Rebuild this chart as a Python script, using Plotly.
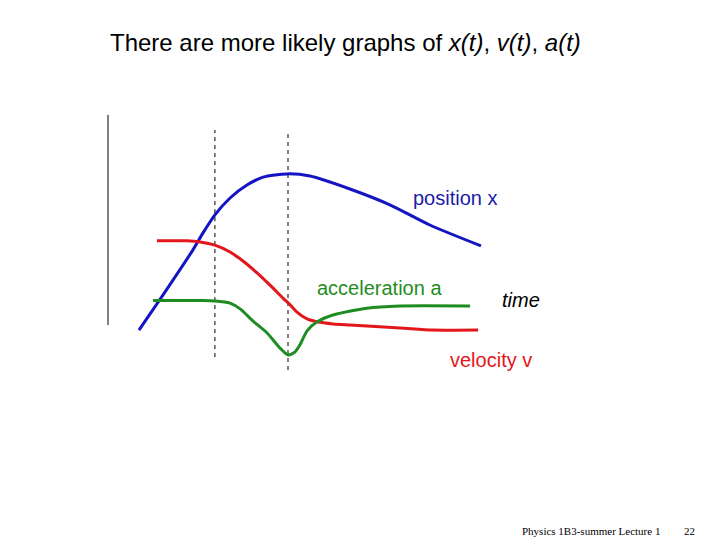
import plotly.graph_objects as go

# time samples and curve values (arbitrary units)
t_pos = [0.86, 1.53, 2.36, 2.64, 2.97, 3.39, 3.86, 4.31, 4.97, 5.61, 6.72, 7.83, 8.94, 10.36]
pos = [-0.17, 0.81, 2.06, 2.53, 3.03, 3.50, 3.86, 4.08, 4.17, 4.11, 3.75, 3.31, 2.75, 2.17]

t_vel = [1.36, 2.19, 2.56, 2.97, 3.39, 3.75, 4.14, 4.50, 4.86, 5.06, 5.25, 5.53, 5.81, 6.25,
         6.72, 8.11, 9.03, 10.28]
vel = [2.31, 2.31, 2.28, 2.19, 2.00, 1.75, 1.42, 1.08, 0.72, 0.53, 0.33, 0.14, 0.06, 0.00,
       -0.03, -0.11, -0.17, -0.17]

t_acc = [1.25, 2.56, 2.97, 3.39, 3.67, 4.03, 4.42, 4.78, 5.00, 5.19, 5.33, 5.53, 5.81, 6.25,
         7.19, 8.11, 10.06]
acc = [0.65, 0.65, 0.64, 0.58, 0.42, 0.08, -0.25, -0.67, -0.86, -0.78, -0.58, -0.19, 0.06, 0.25,
       0.44, 0.50, 0.50]

event_times = [2.97, 5.0]
event_bottoms = [-0.92, -1.28]
event_top = 5.39
axis_span = [-0.03, 5.81]

BLUE = "#1414c4"
RED = "#e3161b"
GREEN = "#1f8c22"

# page body has an 8px margin; figure sized to fit the window
W, H = 712, 532
OFF = 8


def px(sx):
    return (sx - OFF) / W


def py(sy):
    return 1 - (sy - OFF) / H


fig = go.Figure()

fig.add_trace(go.Scatter(x=[0, 0], y=axis_span, mode="lines",
                         line=dict(color="black", width=1), hoverinfo="skip"))
for t, b in zip(event_times, event_bottoms):
    fig.add_trace(go.Scatter(x=[t, t], y=[b, event_top], mode="lines",
                             line=dict(color="black", width=1, dash="4px,4px"),
                             hoverinfo="skip"))

fig.add_trace(go.Scatter(x=t_pos, y=pos, mode="lines",
                         line=dict(color=BLUE, width=3, shape="spline", smoothing=0.7)))
fig.add_trace(go.Scatter(x=t_vel, y=vel, mode="lines",
                         line=dict(color=RED, width=3, shape="spline", smoothing=0.7)))
fig.add_trace(go.Scatter(x=t_acc, y=acc, mode="lines",
                         line=dict(color=GREEN, width=3, shape="spline", smoothing=0.7)))

lab_font = "Liberation Sans, Arial, sans-serif"
common = dict(showarrow=False, xanchor="center", yanchor="middle")
fig.add_annotation(x=9.64, y=3.5, text="position x",
                   font=dict(family=lab_font, size=20, color="#1c1ca8"), **common)
fig.add_annotation(x=7.53, y=1.0, text="acceleration a",
                   font=dict(family=lab_font, size=20, color=GREEN), **common)
fig.add_annotation(x=11.47, y=0.67, text="<i>time</i>",
                   font=dict(family=lab_font, size=20, color="black"), **common)
fig.add_annotation(x=10.64, y=-1.0, text="velocity v",
                   font=dict(family=lab_font, size=20, color=RED), **common)

fig.add_annotation(xref="paper", yref="paper", x=px(345), y=py(43),
                   text="There are more likely graphs of <i>x(t)</i>, <i>v(t)</i>, <i>a(t)</i>",
                   font=dict(family=lab_font, size=24, color="black"), **common)
serif = "Liberation Serif, Times New Roman, serif"
fig.add_annotation(xref="paper", yref="paper", x=px(591), y=py(531),
                   text="Physics 1B3-summer Lecture 1",
                   font=dict(family=serif, size=11, color="black"), **common)
fig.add_annotation(xref="paper", yref="paper", x=px(689), y=py(531),
                   text="22", font=dict(family=serif, size=11, color="black"), **common)

U = 36.0  # pixels per unit
x0 = -(108 - OFF) / U
y_top = (324 - OFF) / U
fig.update_layout(
    width=W, height=H,
    margin=dict(l=0, r=0, t=0, b=0),
    paper_bgcolor="white", plot_bgcolor="white",
    showlegend=False,
    xaxis=dict(range=[x0, x0 + W / U], visible=False, fixedrange=True),
    yaxis=dict(range=[y_top - H / U, y_top], visible=False, fixedrange=True),
)

fig.write_html("out.html")
